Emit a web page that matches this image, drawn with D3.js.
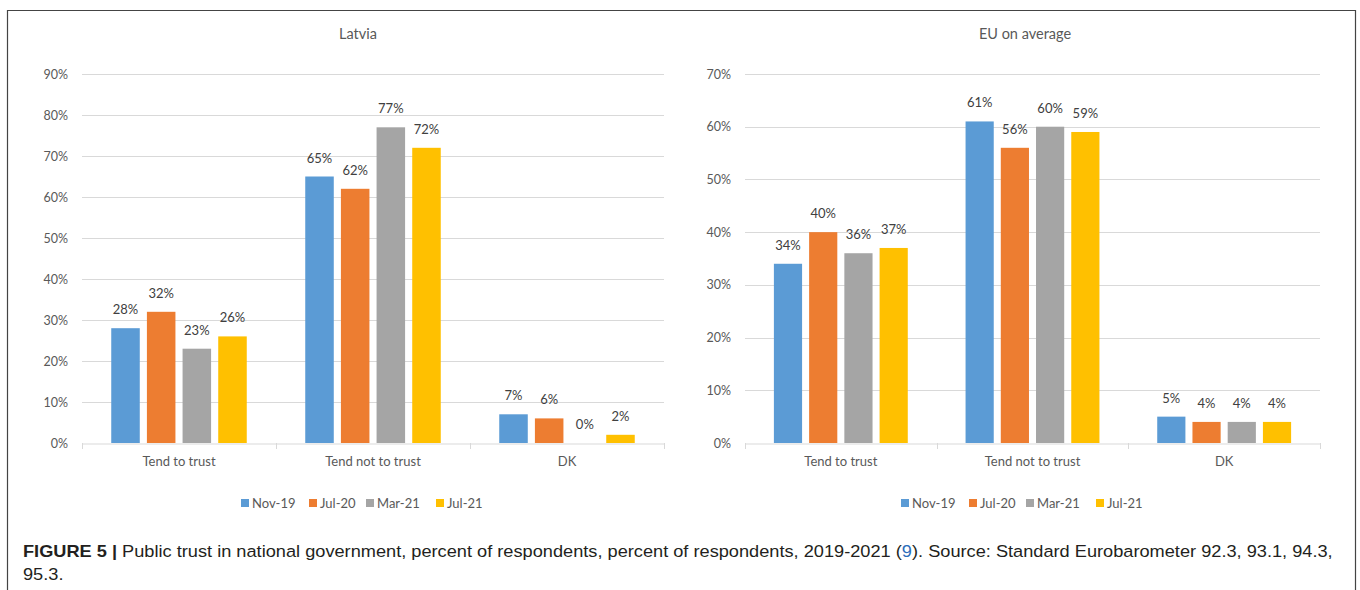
<!DOCTYPE html>
<html>
<head>
<meta charset="utf-8">
<script src="https://cdn.jsdelivr.net/npm/d3@7"></script>
<style>
  html, body { margin: 0; padding: 0; background: #fff; }
  svg { display: block; }
</style>
</head>
<body>
<svg id="fig" width="1360" height="590"></svg>
<script>
// Trust in national government, share of respondents (%)
const categories = ["Tend to trust", "Tend not to trust", "DK"];
const waves = ["Nov-19", "Jul-20", "Mar-21", "Jul-21"];
const waveColors = ["#5B9BD5", "#ED7D31", "#A5A5A5", "#FFC000"];

// values per wave, in category order
const latviaNov19 = [28, 65, 7];
const latviaJul20 = [32, 62, 6];
const latviaMar21 = [23, 77, 0];
const latviaJul21 = [26, 72, 2];

const euNov19 = [34, 61, 5];
const euJul20 = [40, 56, 4];
const euMar21 = [36, 60, 4];
const euJul21 = [37, 59, 4];

const latviaTicks = [0, 10, 20, 30, 40, 50, 60, 70, 80, 90];
const euTicks = [0, 10, 20, 30, 40, 50, 60, 70];

const svg = d3.select("#fig");
const chartFont = "Lato, 'Open Sans', sans-serif";
const textGray = "#595959";

// figure frame
svg.append("path")
  .attr("d", "M7.5,600 V10.5 H1355.5 V600")
  .attr("fill", "none").attr("stroke", "#444").attr("stroke-width", 1.2);

function drawPanel(opt) {
  const { title, series, ticks, left, right, top, bottom, titleX, legendX } = opt;
  const g = svg.append("g");

  const y = d3.scaleLinear().domain([0, d3.max(ticks)]).range([bottom, top]);
  const x0 = d3.scaleBand().domain(categories).range([left, right]).paddingInner(0).paddingOuter(0);
  const x1 = d3.scaleBand().domain(waves).range([0, x0.bandwidth()]).paddingInner(0.2).paddingOuter(0.82);

  // title
  g.append("text").attr("x", titleX).attr("y", 39)
    .attr("text-anchor", "middle").attr("font-family", chartFont)
    .attr("font-size", 14.5).attr("fill", textGray).text(title);

  // gridlines
  g.selectAll("line.grid").data(ticks.filter(t => t > 0)).join("line")
    .attr("x1", left).attr("x2", right)
    .attr("y1", d => Math.round(y(d)) + 0.5).attr("y2", d => Math.round(y(d)) + 0.5)
    .attr("stroke", "#d9d9d9").attr("stroke-width", 1);

  // y axis labels
  const yAxis = d3.axisLeft(y).tickValues(ticks).tickSize(0).tickPadding(14)
    .tickFormat(d => d + "%");
  const ya = g.append("g").attr("transform", `translate(${left},0)`).call(yAxis);
  ya.select(".domain").remove();
  ya.selectAll("text").attr("font-family", chartFont).attr("font-size", 12.5).attr("fill", textGray);

  // bars with value labels
  const cells = (c, i) => waves.map((w, k) => ({ w, k, v: series[k][i] }));
  const groups = g.selectAll("g.cat").data(categories).join("g")
    .attr("transform", d => `translate(${x0(d)},0)`);
  groups.selectAll("rect").data(cells).join("rect")
    .attr("x", d => x1(d.w)).attr("width", x1.bandwidth())
    .attr("y", d => y(d.v)).attr("height", d => bottom - y(d.v))
    .attr("fill", d => waveColors[d.k]);
  groups.selectAll("text").data(cells).join("text")
    .attr("x", d => x1(d.w) + x1.bandwidth() / 2).attr("y", d => y(d.v) - 14)
    .attr("text-anchor", "middle").attr("font-family", chartFont)
    .attr("font-size", 13).attr("fill", "#404040").text(d => d.v + "%");

  // category axis
  const xAxis = d3.axisBottom(x0).tickSize(0).tickPadding(13);
  const xa = g.append("g").attr("transform", `translate(0,${Math.round(bottom) + 0.5})`).call(xAxis);
  xa.select(".domain").attr("stroke", "#d9d9d9");
  xa.selectAll("text").attr("font-family", chartFont).attr("font-size", 13).attr("fill", textGray);
  const bounds = categories.map(c => x0(c)).concat([right]);
  g.selectAll("line.sep").data(bounds).join("line")
    .attr("x1", d => Math.round(d) + 0.5).attr("x2", d => Math.round(d) + 0.5)
    .attr("y1", bottom).attr("y2", bottom + 6)
    .attr("stroke", "#d9d9d9");

  // legend
  const leg = g.append("g").attr("transform", `translate(${legendX},503)`);
  const offsets = [0, 68, 125, 195];
  waves.forEach((w, k) => {
    const item = leg.append("g").attr("transform", `translate(${offsets[k]},0)`);
    item.append("rect").attr("x", 0).attr("y", -4).attr("width", 8).attr("height", 8).attr("fill", waveColors[k]);
    item.append("text").attr("x", 11).attr("y", 4.5).attr("font-family", chartFont)
      .attr("font-size", 13).attr("fill", textGray).text(w);
  });
}

drawPanel({
  title: "Latvia",
  series: [latviaNov19, latviaJul20, latviaMar21, latviaJul21],
  ticks: latviaTicks, left: 82, right: 664, top: 74, bottom: 443,
  titleX: 358, legendX: 241
});

drawPanel({
  title: "EU on average",
  series: [euNov19, euJul20, euMar21, euJul21],
  ticks: euTicks, left: 745, right: 1320, top: 74, bottom: 443,
  titleX: 1025, legendX: 901
});

// caption, set in a slightly widened face
const capFont = "'Liberation Sans', Arial, sans-serif";
const capG = svg.append("g").attr("transform", "translate(23,0) scale(1.117,1)");
const cap = capG.append("text").attr("x", 0).attr("y", 557)
  .attr("font-family", capFont).attr("font-size", 16.3).attr("fill", "#231f20");
cap.append("tspan").attr("font-weight", "bold").text("FIGURE 5 | ");
cap.append("tspan").text("Public trust in national government, percent of respondents, percent of respondents, 2019-2021 (");
cap.append("tspan").attr("fill", "#2a6ebb").text("9");
cap.append("tspan").text("). Source: Standard Eurobarometer 92.3, 93.1, 94.3,");
capG.append("text").attr("x", 0).attr("y", 580)
  .attr("font-family", capFont).attr("font-size", 16.3).attr("fill", "#231f20")
  .text("95.3.");
</script>
</body>
</html>
